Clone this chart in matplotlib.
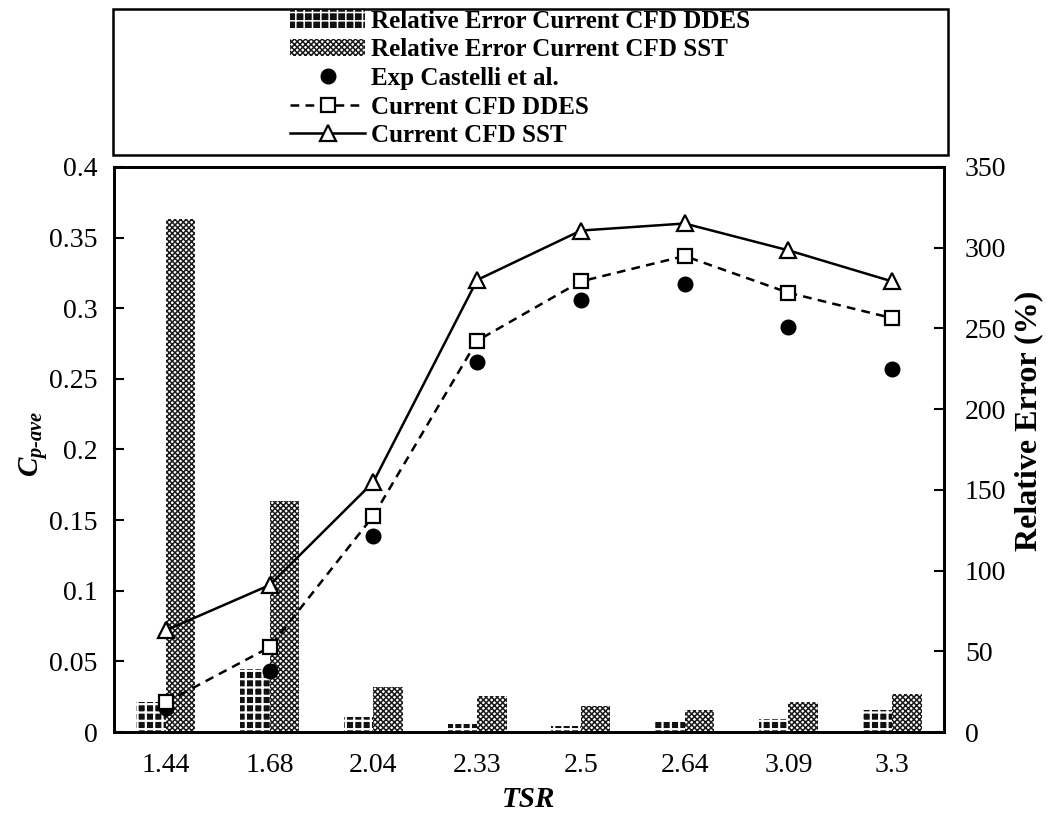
import numpy as np
import matplotlib
matplotlib.use("Agg")
import matplotlib.pyplot as plt
from matplotlib.patches import Rectangle

# Tip-speed ratios and measured / computed power coefficients
tsr_labels = ["1.44", "1.68", "2.04", "2.33", "2.5", "2.64", "3.09", "3.3"]
cp_exp = [0.017, 0.043, 0.139, 0.262, 0.306, 0.317, 0.287, 0.257]
cp_ddes = [0.021, 0.060, 0.153, 0.277, 0.319, 0.337, 0.311, 0.293]
cp_sst = [0.072, 0.104, 0.177, 0.320, 0.355, 0.360, 0.341, 0.319]

# Relative error of each CFD model against the experiment (%)
err_ddes = [18.7, 38.8, 9.4, 4.8, 3.5, 6.0, 7.9, 13.5]
err_sst = [318.0, 142.8, 27.8, 22.3, 16.3, 13.5, 18.8, 23.5]

plt.rcParams["font.family"] = ["Liberation Serif", "DejaVu Serif"]
plt.rcParams["mathtext.fontset"] = "custom"
plt.rcParams["mathtext.it"] = "Liberation Serif:italic:bold"
plt.rcParams["mathtext.rm"] = "Liberation Serif:italic:bold"
plt.rcParams["mathtext.bf"] = "Liberation Serif:italic:bold"
plt.rcParams["hatch.linewidth"] = 1.1

fig = plt.figure(figsize=(10.51, 8.13), dpi=100)
ax = fig.add_axes([114 / 1051, 1 - 732 / 813, (944 - 114) / 1051, (732 - 167) / 813])
ax2 = ax.twinx()

x = np.arange(len(tsr_labels))
bw = 0.285

b1 = ax2.bar(x - bw / 2, err_ddes, width=bw, facecolor="#111111", edgecolor="white",
             hatch="++", linewidth=0, label="Relative Error Current CFD DDES")
b2 = ax2.bar(x + bw / 2, err_sst, width=bw, facecolor="white", edgecolor="#1a1a1a",
             hatch="xxxxxx", linewidth=0, label="Relative Error Current CFD SST")
for p in b1:
    if hasattr(p, "set_hatch_linewidth"):
        p.set_hatch_linewidth(1.6)

l0, = ax.plot(x, cp_exp, linestyle="none", marker="o", markersize=10.5,
              color="black", label="Exp Castelli et al.")
l1, = ax.plot(x, cp_ddes, linestyle=(0, (3.5, 2.5)), linewidth=1.8, color="black",
              marker="s", markersize=10.5, markerfacecolor="white",
              markeredgecolor="black", markeredgewidth=1.6, label="Current CFD DDES")
l2, = ax.plot(x, cp_sst, linestyle="-", linewidth=1.8, color="black",
              marker="^", markersize=11, markerfacecolor="white",
              markeredgecolor="black", markeredgewidth=1.6, label="Current CFD SST")

ax.set_zorder(ax2.get_zorder() + 1)
ax.patch.set_visible(False)

ax.set_xlim(-0.5, len(tsr_labels) - 0.5)
ax.set_ylim(0, 0.4)
ax2.set_ylim(0, 350)
ax.set_yticks(np.arange(0, 0.401, 0.05))
ax.set_yticklabels(["0", "0.05", "0.1", "0.15", "0.2", "0.25", "0.3", "0.35", "0.4"])
ax2.set_yticks(np.arange(0, 351, 50))
ax.set_xticks(x)
ax.set_xticklabels(tsr_labels)

ax.tick_params(axis="y", direction="in", length=7, width=1.5, labelsize=20, pad=12)
ax2.tick_params(axis="y", direction="in", length=7, width=1.5, labelsize=20, pad=15)
ax.tick_params(axis="x", length=0, labelsize=20, pad=15)

for a in (ax, ax2):
    for s in a.spines.values():
        s.set_linewidth(2.0)
        s.set_color("black")

ax.set_xlabel("TSR", fontsize=21, fontweight="bold", style="italic", labelpad=6)
ax.set_ylabel(r"$C_{p\text{-}ave}$", fontsize=21)
ax.yaxis.set_label_coords(-0.077, 0.51)
ax2.set_ylabel("Relative Error (%)", fontsize=23, fontweight="bold")
ax2.yaxis.set_label_coords(1.085, 0.55)

# Legend panel above the plot
fig.patches.append(Rectangle((113 / 1051, 1 - 155 / 813), (948 - 113) / 1051,
                             (155 - 9) / 813, transform=fig.transFigure,
                             facecolor="white", edgecolor="black", linewidth=1.8))
fig.legend(handles=[b1, b2, l0, l1, l2], loc="upper left",
           bbox_to_anchor=(290 / 1051, 1 - 10 / 813), frameon=False,
           prop={"weight": "bold", "size": 18}, handlelength=3.0,
           handletextpad=0.25, labelspacing=0.22, borderpad=0, borderaxespad=0)

fig.savefig("out.png", dpi=100)
